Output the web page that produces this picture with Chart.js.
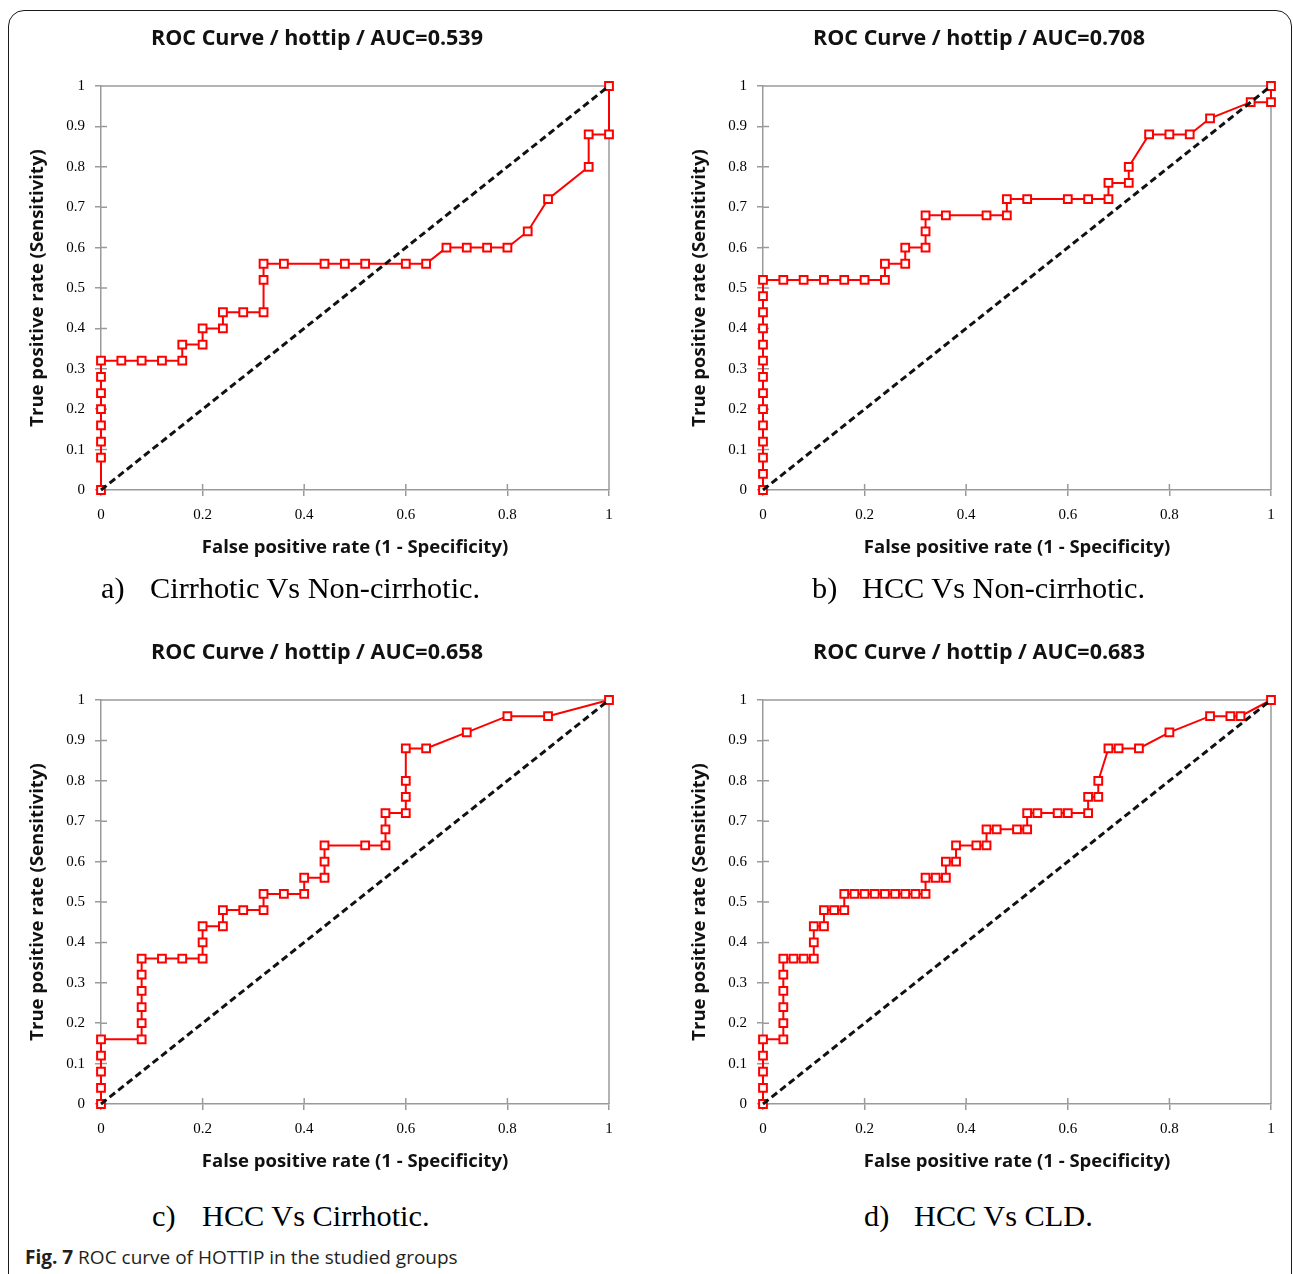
<!DOCTYPE html>
<html><head><meta charset="utf-8">
<script src="https://cdn.jsdelivr.net/npm/chart.js@4.4.1/dist/chart.umd.min.js"></script>
<style>
html,body{margin:0;padding:0;background:#fff;width:1293px;height:1274px;overflow:hidden;position:relative;}
.frame{position:absolute;left:8px;top:10px;width:1284px;height:1320px;border:1.5px solid #1a1a1a;border-radius:16px;box-sizing:border-box;}
canvas{position:absolute;}
.cap{position:absolute;font-family:'Liberation Serif','Times New Roman',serif;font-size:30.3px;line-height:30px;color:#000;white-space:nowrap;}
.fig{position:absolute;left:25px;top:1245px;font-family:'Open Sans',sans-serif;font-size:19px;line-height:24px;color:#231f20;white-space:nowrap;}
</style></head><body>
<div class="frame"></div>
<canvas id="cA" width="620" height="560" style="left:10px;top:15px"></canvas>
<canvas id="cB" width="620" height="560" style="left:672px;top:15px"></canvas>
<canvas id="cC" width="620" height="560" style="left:10px;top:629px"></canvas>
<canvas id="cD" width="620" height="560" style="left:672px;top:629px"></canvas>
<div class="cap" id="capA1" style="left:101px;top:573px"></div>
<div class="cap" id="capA2" style="left:150px;top:573px"></div>
<div class="cap" id="capB1" style="left:812px;top:573px"></div>
<div class="cap" id="capB2" style="left:862px;top:573px"></div>
<div class="cap" id="capC1" style="left:152px;top:1201px"></div>
<div class="cap" id="capC2" style="left:202px;top:1201px"></div>
<div class="cap" id="capD1" style="left:864px;top:1201px"></div>
<div class="cap" id="capD2" style="left:914px;top:1201px"></div>
<div class="fig" id="fig"></div>
<script>
// ---- data ----
const chartTitles = ['ROC Curve / hottip / AUC=0.539','ROC Curve / hottip / AUC=0.708','ROC Curve / hottip / AUC=0.658','ROC Curve / hottip / AUC=0.683'];
const captionLetters = ['a)','b)','c)','d)'];
const captionTexts = ['Cirrhotic Vs Non-cirrhotic.','HCC Vs Non-cirrhotic.','HCC Vs Cirrhotic.','HCC Vs CLD.'];
const figLabel = 'Fig. 7';
const figText = ' ROC curve of HOTTIP in the studied groups';
const xAxisTitle = 'False positive rate (1 - Specificity)';
const yAxisTitle = 'True positive rate (Sensitivity)';
const xTickValues = [0,0.2,0.4,0.6,0.8,1];
const xTickLabels = ['0','0.2','0.4','0.6','0.8','1'];
const yTickValues = [0,0.1,0.2,0.3,0.4,0.5,0.6,0.7,0.8,0.9,1];
const yTickLabels = ['0','0.1','0.2','0.3','0.4','0.5','0.6','0.7','0.8','0.9','1'];
const diagX = [0,1];
const diagY = [0,1];

const fprA = [0,0,0,0,0,0,0,0,0.04,0.08,0.12,0.16,0.16,0.2,0.2,0.24,0.24,0.28,0.32,0.32,0.32,0.36,0.44,0.48,0.52,0.6,0.64,0.68,0.72,0.76,0.8,0.84,0.88,0.96,0.96,1,1];
const tprA = [0,0.08,0.12,0.16,0.2,0.24,0.28,0.32,0.32,0.32,0.32,0.32,0.36,0.36,0.4,0.4,0.44,0.44,0.44,0.52,0.56,0.56,0.56,0.56,0.56,0.56,0.56,0.6,0.6,0.6,0.6,0.64,0.72,0.8,0.88,0.88,1];

const fprB = [0,0,0,0,0,0,0,0,0,0,0,0,0,0,0.04,0.08,0.12,0.16,0.2,0.24,0.24,0.28,0.28,0.32,0.32,0.32,0.36,0.44,0.48,0.48,0.52,0.6,0.64,0.68,0.68,0.72,0.72,0.76,0.8,0.84,0.88,0.96,1,1];
const tprB = [0,0.04,0.08,0.12,0.16,0.2,0.24,0.28,0.32,0.36,0.4,0.44,0.48,0.52,0.52,0.52,0.52,0.52,0.52,0.52,0.56,0.56,0.6,0.6,0.64,0.68,0.68,0.68,0.68,0.72,0.72,0.72,0.72,0.72,0.76,0.76,0.8,0.88,0.88,0.88,0.92,0.96,0.96,1];

const fprC = [0,0,0,0,0,0.08,0.08,0.08,0.08,0.08,0.08,0.12,0.16,0.2,0.2,0.2,0.24,0.24,0.28,0.32,0.32,0.36,0.4,0.4,0.44,0.44,0.44,0.52,0.56,0.56,0.56,0.6,0.6,0.6,0.6,0.64,0.72,0.8,0.88,1];
const tprC = [0,0.04,0.08,0.12,0.16,0.16,0.2,0.24,0.28,0.32,0.36,0.36,0.36,0.36,0.4,0.44,0.44,0.48,0.48,0.48,0.52,0.52,0.52,0.56,0.56,0.6,0.64,0.64,0.64,0.68,0.72,0.72,0.76,0.8,0.88,0.88,0.92,0.96,0.96,1];

const fprD = [0,0,0,0,0,0.04,0.04,0.04,0.04,0.04,0.04,0.06,0.08,0.1,0.1,0.1,0.12,0.12,0.14,0.16,0.16,0.18,0.2,0.22,0.24,0.26,0.28,0.3,0.32,0.32,0.34,0.36,0.36,0.38,0.38,0.42,0.44,0.44,0.46,0.5,0.52,0.52,0.54,0.58,0.6,0.64,0.64,0.66,0.66,0.68,0.7,0.74,0.8,0.88,0.92,0.94,1];
const tprD = [0,0.04,0.08,0.12,0.16,0.16,0.2,0.24,0.28,0.32,0.36,0.36,0.36,0.36,0.4,0.44,0.44,0.48,0.48,0.48,0.52,0.52,0.52,0.52,0.52,0.52,0.52,0.52,0.52,0.56,0.56,0.56,0.6,0.6,0.64,0.64,0.64,0.68,0.68,0.68,0.68,0.72,0.72,0.72,0.72,0.72,0.76,0.76,0.8,0.88,0.88,0.88,0.92,0.96,0.96,0.96,1];

// ---- drawing ----
const AXIS = '#9a9a9a';
const framePlugin = {
  id: 'frameTicks',
  beforeDatasetsDraw(chart) {
    const {ctx, chartArea: {left, right, top, bottom}, scales: {x, y}} = chart;
    ctx.save();
    ctx.strokeStyle = AXIS;
    ctx.lineWidth = 1.5;
    ctx.beginPath();
    ctx.moveTo(left, top); ctx.lineTo(right, top); ctx.lineTo(right, bottom);
    x.ticks.forEach(t => { const px = x.getPixelForValue(t.value); ctx.moveTo(px, bottom); ctx.lineTo(px, bottom - 6); });
    y.ticks.forEach(t => { const py = y.getPixelForValue(t.value); ctx.moveTo(left, py); ctx.lineTo(left + 6, py); });
    ctx.stroke();
    ctx.restore();
  }
};

function makeChart(id, title, fpr, tpr) {
  const pts = fpr.map((v, i) => ({x: v, y: tpr[i]}));
  const diag = diagX.map((v, i) => ({x: v, y: diagY[i]}));
  const tickFont = {family: "'Liberation Serif', serif", size: 15};
  const titleFont = {family: "'Open Sans'", size: 18.5, weight: 'bold'};
  new Chart(document.getElementById(id), {
    type: 'scatter',
    data: {datasets: [
      {data: diag, showLine: true, borderColor: '#111', borderWidth: 3, borderDash: [7, 4], pointRadius: 0, clip: false},
      {data: pts, showLine: true, borderColor: '#ff0000', borderWidth: 2, tension: 0,
       pointStyle: 'rect', pointRadius: 5.5, pointBorderWidth: 2, pointBackgroundColor: '#ffffff', pointBorderColor: '#ff0000', clip: false}
    ]},
    options: {
      responsive: false, animation: false, devicePixelRatio: 1,
      layout: {padding: {left: 15, right: 21, top: 0, bottom: 0}},
      plugins: {
        legend: {display: false}, tooltip: {enabled: false},
        title: {display: true, text: title, color: '#111', font: {family: "'Open Sans'", size: 21.5, weight: 'bold'}, padding: {top: 10.8, bottom: 34.4}}
      },
      scales: {
        x: {type: 'linear', min: 0, max: 1,
          afterBuildTicks: s => { s.ticks = xTickValues.map(v => ({value: v})); },
          afterFit: s => { s.height = 85; },
          ticks: {callback: (v, i) => xTickLabels[i], font: tickFont, color: '#000', padding: 10, maxRotation: 0, autoSkip: false},
          grid: {drawOnChartArea: false, drawTicks: true, tickLength: 6, color: AXIS, lineWidth: 1.5},
          border: {display: true, color: AXIS, width: 1.5},
          title: {display: true, text: xAxisTitle, color: '#111', font: titleFont, padding: {top: 0, bottom: 15.9}}
        },
        y: {type: 'linear', min: 0, max: 1,
          afterBuildTicks: s => { s.ticks = yTickValues.map(v => ({value: v})); },
          afterFit: s => { s.width = 76; },
          ticks: {callback: (v, i) => yTickLabels[i], font: tickFont, color: '#000', padding: 10, autoSkip: false},
          grid: {drawOnChartArea: false, drawTicks: true, tickLength: 6, color: AXIS, lineWidth: 1.5},
          border: {display: true, color: AXIS, width: 1.5},
          title: {display: true, text: yAxisTitle, color: '#111', font: titleFont, padding: {top: 1.9, bottom: 0}}
        }
      }
    },
    plugins: [framePlugin]
  });
}

makeChart('cA', chartTitles[0], fprA, tprA);
makeChart('cB', chartTitles[1], fprB, tprB);
makeChart('cC', chartTitles[2], fprC, tprC);
makeChart('cD', chartTitles[3], fprD, tprD);

['A','B','C','D'].forEach((k, i) => {
  document.getElementById('cap' + k + '1').textContent = captionLetters[i];
  document.getElementById('cap' + k + '2').textContent = captionTexts[i];
});
const fig = document.getElementById('fig');
const b = document.createElement('b'); b.textContent = figLabel; fig.appendChild(b);
fig.appendChild(document.createTextNode(figText));
</script>
</body></html>
